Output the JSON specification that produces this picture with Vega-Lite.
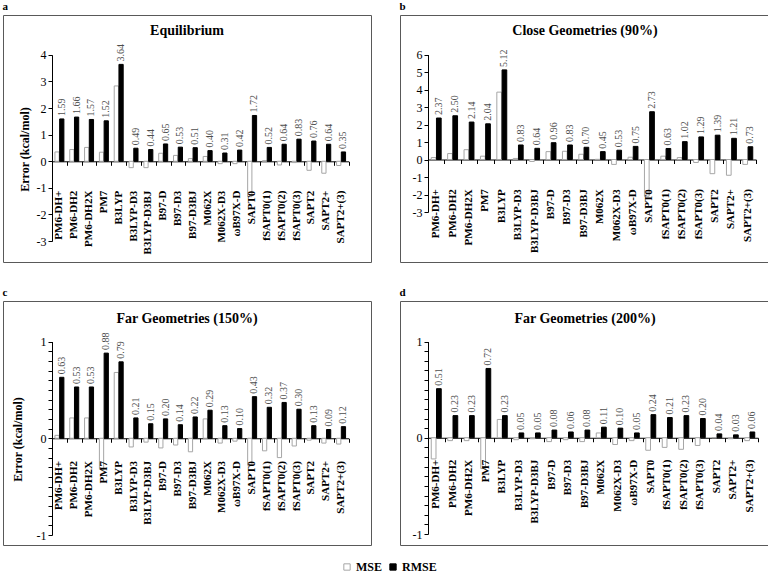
{
  "$schema": "https://vega.github.io/schema/vega-lite/v6.json",
  "padding": {"left": 2, "top": 0, "right": 0, "bottom": 0},
  "autosize": {"type": "pad"},
  "datasets": {
    "a": [
      {"method": "PM6-DH+", "MSE": 0.35, "RMSE": 1.59},
      {"method": "PM6-DH2", "MSE": 0.44, "RMSE": 1.66},
      {"method": "PM6-DH2X", "MSE": 0.52, "RMSE": 1.57},
      {"method": "PM7", "MSE": 0.34, "RMSE": 1.52},
      {"method": "B3LYP", "MSE": 2.83, "RMSE": 3.64},
      {"method": "B3LYP-D3", "MSE": -0.24, "RMSE": 0.49},
      {"method": "B3LYP-D3BJ", "MSE": -0.24, "RMSE": 0.44},
      {"method": "B97-D", "MSE": 0.30, "RMSE": 0.65},
      {"method": "B97-D3", "MSE": 0.22, "RMSE": 0.53},
      {"method": "B97-D3BJ", "MSE": 0.10, "RMSE": 0.51},
      {"method": "M062X", "MSE": 0.18, "RMSE": 0.40},
      {"method": "M062X-D3", "MSE": -0.09, "RMSE": 0.31},
      {"method": "ωB97X-D", "MSE": -0.09, "RMSE": 0.42},
      {"method": "SAPT0", "MSE": -1.33, "RMSE": 1.72},
      {"method": "fSAPT0(1)", "MSE": 0.02, "RMSE": 0.52},
      {"method": "fSAPT0(2)", "MSE": -0.14, "RMSE": 0.64},
      {"method": "fSAPT0(3)", "MSE": -0.05, "RMSE": 0.83},
      {"method": "SAPT2", "MSE": -0.34, "RMSE": 0.76},
      {"method": "SAPT2+", "MSE": -0.45, "RMSE": 0.64},
      {"method": "SAPT2+(3)", "MSE": -0.16, "RMSE": 0.35}
    ],
    "b": [
      {"method": "PM6-DH+", "MSE": 0.11, "RMSE": 2.37},
      {"method": "PM6-DH2", "MSE": 0.34, "RMSE": 2.50},
      {"method": "PM6-DH2X", "MSE": 0.56, "RMSE": 2.14},
      {"method": "PM7", "MSE": 0.19, "RMSE": 2.04},
      {"method": "B3LYP", "MSE": 3.85, "RMSE": 5.12},
      {"method": "B3LYP-D3", "MSE": 0.06, "RMSE": 0.83},
      {"method": "B3LYP-D3BJ", "MSE": -0.11, "RMSE": 0.64},
      {"method": "B97-D", "MSE": 0.45, "RMSE": 0.96},
      {"method": "B97-D3", "MSE": 0.47, "RMSE": 0.83},
      {"method": "B97-D3BJ", "MSE": 0.30, "RMSE": 0.70},
      {"method": "M062X", "MSE": 0.01, "RMSE": 0.45},
      {"method": "M062X-D3", "MSE": -0.28, "RMSE": 0.53},
      {"method": "ωB97X-D", "MSE": 0.13, "RMSE": 0.75},
      {"method": "SAPT0", "MSE": -2.10, "RMSE": 2.73},
      {"method": "fSAPT0(1)", "MSE": 0.19, "RMSE": 0.63},
      {"method": "fSAPT0(2)", "MSE": 0.11, "RMSE": 1.02},
      {"method": "fSAPT0(3)", "MSE": -0.17, "RMSE": 1.29},
      {"method": "SAPT2", "MSE": -0.81, "RMSE": 1.39},
      {"method": "SAPT2+", "MSE": -0.90, "RMSE": 1.21},
      {"method": "SAPT2+(3)", "MSE": -0.28, "RMSE": 0.73}
    ],
    "c": [
      {"method": "PM6-DH+", "MSE": 0.03, "RMSE": 0.63},
      {"method": "PM6-DH2", "MSE": 0.21, "RMSE": 0.53},
      {"method": "PM6-DH2X", "MSE": 0.21, "RMSE": 0.53},
      {"method": "PM7", "MSE": -0.32, "RMSE": 0.88},
      {"method": "B3LYP", "MSE": 0.68, "RMSE": 0.79},
      {"method": "B3LYP-D3", "MSE": -0.09, "RMSE": 0.21},
      {"method": "B3LYP-D3BJ", "MSE": -0.04, "RMSE": 0.15},
      {"method": "B97-D", "MSE": -0.10, "RMSE": 0.20},
      {"method": "B97-D3", "MSE": -0.07, "RMSE": 0.14},
      {"method": "B97-D3BJ", "MSE": -0.14, "RMSE": 0.22},
      {"method": "M062X", "MSE": 0.20, "RMSE": 0.29},
      {"method": "M062X-D3", "MSE": -0.05, "RMSE": 0.13},
      {"method": "ωB97X-D", "MSE": -0.03, "RMSE": 0.10},
      {"method": "SAPT0", "MSE": -0.28, "RMSE": 0.43},
      {"method": "fSAPT0(1)", "MSE": -0.13, "RMSE": 0.32},
      {"method": "fSAPT0(2)", "MSE": -0.20, "RMSE": 0.37},
      {"method": "fSAPT0(3)", "MSE": -0.08, "RMSE": 0.30},
      {"method": "SAPT2", "MSE": -0.02, "RMSE": 0.13},
      {"method": "SAPT2+", "MSE": -0.05, "RMSE": 0.09},
      {"method": "SAPT2+(3)", "MSE": -0.06, "RMSE": 0.12}
    ],
    "d": [
      {"method": "PM6-DH+", "MSE": -0.22, "RMSE": 0.51},
      {"method": "PM6-DH2", "MSE": -0.03, "RMSE": 0.23},
      {"method": "PM6-DH2X", "MSE": -0.03, "RMSE": 0.23},
      {"method": "PM7", "MSE": -0.32, "RMSE": 0.72},
      {"method": "B3LYP", "MSE": 0.19, "RMSE": 0.23},
      {"method": "B3LYP-D3", "MSE": -0.02, "RMSE": 0.05},
      {"method": "B3LYP-D3BJ", "MSE": -0.01, "RMSE": 0.05},
      {"method": "B97-D", "MSE": -0.04, "RMSE": 0.08},
      {"method": "B97-D3", "MSE": -0.02, "RMSE": 0.06},
      {"method": "B97-D3BJ", "MSE": -0.04, "RMSE": 0.08},
      {"method": "M062X", "MSE": 0.05, "RMSE": 0.11},
      {"method": "M062X-D3", "MSE": -0.07, "RMSE": 0.10},
      {"method": "ωB97X-D", "MSE": -0.03, "RMSE": 0.05},
      {"method": "SAPT0", "MSE": -0.13, "RMSE": 0.24},
      {"method": "fSAPT0(1)", "MSE": -0.10, "RMSE": 0.21},
      {"method": "fSAPT0(2)", "MSE": -0.12, "RMSE": 0.23},
      {"method": "fSAPT0(3)", "MSE": -0.08, "RMSE": 0.20},
      {"method": "SAPT2", "MSE": 0.00, "RMSE": 0.04},
      {"method": "SAPT2+", "MSE": -0.01, "RMSE": 0.03},
      {"method": "SAPT2+(3)", "MSE": -0.03, "RMSE": 0.06}
    ]
  },
  "spacing": 23,
  "resolve": {"scale": {"xOffset": "independent"}},
  "vconcat": [
    {
      "spacing": 27,
      "resolve": {"scale": {"xOffset": "independent"}},
      "hconcat": [
        {
          "title": {"text": "a", "anchor": "start", "fontSize": 11, "fontWeight": "bold", "offset": -6, "baseline": "alphabetic"},
          "resolve": {"scale": {"xOffset": "independent"}},
          "vconcat": [
            {
              "width": 368, "height": 247,
              "title": {"text": "Equilibrium", "offset": -23, "fontSize": 14, "fontWeight": "bold", "anchor": "middle"},
              "data": {"name": "a"},
              "transform": [{"fold": ["MSE", "RMSE"], "as": ["metric", "value"]}],
              "encoding": {
                "x": {"field": "method", "type": "nominal", "sort": null,
                  "scale": {"range": [49, 345.5], "paddingInner": 0, "paddingOuter": 0},
                  "axis": {"title": null, "orient": "bottom", "offset": -100.7, "labels": false, "tickBand": "extent", "tickSize": 4, "domainColor": "black", "tickColor": "black"}},
                "y": {"field": "value", "type": "quantitative",
                  "scale": {"domain": [-3, 4], "range": [226.1, 39.8], "nice": false, "zero": false},
                  "axis": {"title": "Error (kcal/mol)", "titleFontSize": 12, "titleFontWeight": "bold", "titleColor": "black", "titlePadding": 5, "titleY": 134, "offset": -49, "values": [-3, -2, -1, 0, 1, 2, 3, 4], "labelExpr": "'' + datum.value", "grid": false, "domainColor": "black", "tickColor": "black", "tickSize": 4, "labelPadding": 2, "labelFontSize": 12, "labelColor": "black"}}
              },
              "layer": [
                {"mark": {"type": "bar", "strokeWidth": 1},
                  "encoding": {
                    "xOffset": {"field": "metric", "scale": {"domain": ["MSE", "RMSE"], "paddingInner": 0.1, "paddingOuter": 0.62}},
                    "fill": {"field": "metric", "type": "nominal", "scale": {"domain": ["MSE", "RMSE"], "range": ["#ffffff", "#000000"]}, "legend": {"title": null}},
                    "stroke": {"field": "metric", "type": "nominal", "scale": {"domain": ["MSE", "RMSE"], "range": ["#a6a6a6", "#000000"]}, "legend": {"title": null}}
                  }},
                {"mark": {"type": "text", "angle": 270, "align": "left", "baseline": "middle", "dx": 3, "fontSize": 10, "color": "#4d4d4d"},
                  "transform": [{"filter": "datum.metric == 'RMSE'"}],
                  "encoding": {"xOffset": {"field": "metric"}, "text": {"field": "value", "format": ".2f"}}},
                {"mark": {"type": "text", "angle": 270, "align": "right", "baseline": "middle", "fontSize": 11, "fontWeight": "bold", "color": "black"},
                  "transform": [{"filter": "datum.metric == 'RMSE'"}],
                  "encoding": {"y": {"datum": -1.105, "type": "quantitative"}, "text": {"field": "method"}}}
              ]
            }
          ]
        },
        {
          "title": {"text": "b", "anchor": "start", "fontSize": 11, "fontWeight": "bold", "offset": -6, "baseline": "alphabetic"},
          "resolve": {"scale": {"xOffset": "independent"}},
          "vconcat": [
            {
              "width": 370, "height": 247,
              "title": {"text": "Close Geometries (90%)", "offset": -23, "fontSize": 14, "fontWeight": "bold", "anchor": "middle"},
              "data": {"name": "b"},
              "transform": [{"fold": ["MSE", "RMSE"], "as": ["metric", "value"]}],
              "encoding": {
                "x": {"field": "method", "type": "nominal", "sort": null,
                  "scale": {"range": [28, 356], "paddingInner": 0, "paddingOuter": 0},
                  "axis": {"title": null, "orient": "bottom", "offset": -102.5, "labels": false, "tickBand": "extent", "tickSize": 4, "domainColor": "black", "tickColor": "black"}},
                "y": {"field": "value", "type": "quantitative",
                  "scale": {"domain": [-3, 6], "range": [197, 39.5], "nice": false, "zero": false},
                  "axis": {"title": null, "offset": -28, "values": [-3, -2, -1, 0, 1, 2, 3, 4, 5, 6], "labelExpr": "'' + datum.value", "grid": false, "domainColor": "black", "tickColor": "black", "tickSize": 4, "labelPadding": 2, "labelFontSize": 12, "labelColor": "black"}}
              },
              "layer": [
                {"mark": {"type": "bar", "strokeWidth": 1},
                  "encoding": {
                    "xOffset": {"field": "metric", "scale": {"domain": ["MSE", "RMSE"], "paddingInner": 0.1, "paddingOuter": 0.62}},
                    "fill": {"field": "metric", "type": "nominal", "scale": {"domain": ["MSE", "RMSE"], "range": ["#ffffff", "#000000"]}, "legend": {"title": null}},
                    "stroke": {"field": "metric", "type": "nominal", "scale": {"domain": ["MSE", "RMSE"], "range": ["#a6a6a6", "#000000"]}, "legend": {"title": null}}
                  }},
                {"mark": {"type": "text", "angle": 270, "align": "left", "baseline": "middle", "dx": 3, "fontSize": 10, "color": "#4d4d4d"},
                  "transform": [{"filter": "datum.metric == 'RMSE'"}],
                  "encoding": {"xOffset": {"field": "metric"}, "text": {"field": "value", "format": ".2f"}}},
                {"mark": {"type": "text", "angle": 270, "align": "right", "baseline": "middle", "fontSize": 11, "fontWeight": "bold", "color": "black"},
                  "transform": [{"filter": "datum.metric == 'RMSE'"}],
                  "encoding": {"y": {"datum": -1.697, "type": "quantitative"}, "text": {"field": "method"}}}
              ]
            }
          ]
        }
      ]
    },
    {
      "spacing": 27,
      "resolve": {"scale": {"xOffset": "independent"}},
      "hconcat": [
        {
          "title": {"text": "c", "anchor": "start", "fontSize": 11, "fontWeight": "bold", "offset": -6, "baseline": "alphabetic"},
          "resolve": {"scale": {"xOffset": "independent"}},
          "vconcat": [
            {
              "width": 368, "height": 244,
              "title": {"text": "Far Geometries (150%)", "offset": -25, "fontSize": 14, "fontWeight": "bold", "anchor": "middle"},
              "data": {"name": "c"},
              "transform": [{"fold": ["MSE", "RMSE"], "as": ["metric", "value"]}],
              "encoding": {
                "x": {"field": "method", "type": "nominal", "sort": null,
                  "scale": {"range": [49, 345.5], "paddingInner": 0, "paddingOuter": 0},
                  "axis": {"title": null, "orient": "bottom", "offset": -106.75, "labels": false, "tickBand": "extent", "tickSize": 4, "domainColor": "black", "tickColor": "black"}},
                "y": {"field": "value", "type": "quantitative",
                  "scale": {"domain": [-1, 1], "range": [234, 40.5], "nice": false, "zero": false},
                  "axis": {"title": "Error (kcal/mol)", "titleFontSize": 12, "titleFontWeight": "bold", "titleColor": "black", "titlePadding": 12, "titleY": 138, "offset": -49, "values": [-1, -0.9, -0.8, -0.7, -0.6, -0.5, -0.4, -0.3, -0.2, -0.1, 0, 0.1, 0.2, 0.3, 0.4, 0.5, 0.6, 0.7, 0.8, 0.9, 1], "labelExpr": "abs(datum.value - round(datum.value)) < 0.001 ? '' + round(datum.value) : ''", "grid": false, "domainColor": "black", "tickColor": "black", "tickSize": 4, "labelPadding": 2, "labelFontSize": 12, "labelColor": "black"}}
              },
              "layer": [
                {"mark": {"type": "bar", "strokeWidth": 1},
                  "encoding": {
                    "xOffset": {"field": "metric", "scale": {"domain": ["MSE", "RMSE"], "paddingInner": 0.1, "paddingOuter": 0.62}},
                    "fill": {"field": "metric", "type": "nominal", "scale": {"domain": ["MSE", "RMSE"], "range": ["#ffffff", "#000000"]}, "legend": {"title": null}},
                    "stroke": {"field": "metric", "type": "nominal", "scale": {"domain": ["MSE", "RMSE"], "range": ["#a6a6a6", "#000000"]}, "legend": {"title": null}}
                  }},
                {"mark": {"type": "text", "angle": 270, "align": "left", "baseline": "middle", "dx": 3, "fontSize": 10, "color": "#4d4d4d"},
                  "transform": [{"filter": "datum.metric == 'RMSE'"}],
                  "encoding": {"xOffset": {"field": "metric"}, "text": {"field": "value", "format": ".2f"}}},
                {"mark": {"type": "text", "angle": 270, "align": "right", "baseline": "middle", "fontSize": 11, "fontWeight": "bold", "color": "black"},
                  "transform": [{"filter": "datum.metric == 'RMSE'"}],
                  "encoding": {"y": {"datum": -0.235, "type": "quantitative"}, "text": {"field": "method"}}}
              ]
            }
          ]
        },
        {
          "title": {"text": "d", "anchor": "start", "fontSize": 11, "fontWeight": "bold", "offset": -6, "baseline": "alphabetic"},
          "resolve": {"scale": {"xOffset": "independent"}},
          "vconcat": [
            {
              "width": 370, "height": 244,
              "title": {"text": "Far Geometries (200%)", "offset": -25, "fontSize": 14, "fontWeight": "bold", "anchor": "middle"},
              "data": {"name": "d"},
              "transform": [{"fold": ["MSE", "RMSE"], "as": ["metric", "value"]}],
              "encoding": {
                "x": {"field": "method", "type": "nominal", "sort": null,
                  "scale": {"range": [28, 358], "paddingInner": 0, "paddingOuter": 0},
                  "axis": {"title": null, "orient": "bottom", "offset": -107.25, "labels": false, "tickBand": "extent", "tickSize": 4, "domainColor": "black", "tickColor": "black"}},
                "y": {"field": "value", "type": "quantitative",
                  "scale": {"domain": [-1, 1], "range": [233, 40.5], "nice": false, "zero": false},
                  "axis": {"title": null, "offset": -28, "values": [-1, -0.9, -0.8, -0.7, -0.6, -0.5, -0.4, -0.3, -0.2, -0.1, 0, 0.1, 0.2, 0.3, 0.4, 0.5, 0.6, 0.7, 0.8, 0.9, 1], "labelExpr": "abs(datum.value - round(datum.value)) < 0.001 ? '' + round(datum.value) : ''", "grid": false, "domainColor": "black", "tickColor": "black", "tickSize": 4, "labelPadding": 2, "labelFontSize": 12, "labelColor": "black"}}
              },
              "layer": [
                {"mark": {"type": "bar", "strokeWidth": 1},
                  "encoding": {
                    "xOffset": {"field": "metric", "scale": {"domain": ["MSE", "RMSE"], "paddingInner": 0.1, "paddingOuter": 0.62}},
                    "fill": {"field": "metric", "type": "nominal", "scale": {"domain": ["MSE", "RMSE"], "range": ["#ffffff", "#000000"]}, "legend": {"title": null}},
                    "stroke": {"field": "metric", "type": "nominal", "scale": {"domain": ["MSE", "RMSE"], "range": ["#a6a6a6", "#000000"]}, "legend": {"title": null}}
                  }},
                {"mark": {"type": "text", "angle": 270, "align": "left", "baseline": "middle", "dx": 3, "fontSize": 10, "color": "#4d4d4d"},
                  "transform": [{"filter": "datum.metric == 'RMSE'"}],
                  "encoding": {"xOffset": {"field": "metric"}, "text": {"field": "value", "format": ".2f"}}},
                {"mark": {"type": "text", "angle": 270, "align": "right", "baseline": "middle", "fontSize": 11, "fontWeight": "bold", "color": "black"},
                  "transform": [{"filter": "datum.metric == 'RMSE'"}],
                  "encoding": {"y": {"datum": -0.228, "type": "quantitative"}, "text": {"field": "method"}}}
              ]
            }
          ]
        }
      ]
    }
  ],
  "config": {
    "font": "Liberation Serif",
    "view": {"stroke": "#595959", "strokeWidth": 1},
    "axis": {"grid": false, "labelFont": "Liberation Serif", "titleFont": "Liberation Serif"},
    "title": {"color": "black", "font": "Liberation Serif"},
    "legend": {"orient": "none", "legendX": 338, "legendY": 546, "direction": "horizontal", "symbolType": "square", "symbolSize": 40, "symbolStrokeWidth": 1, "labelFontSize": 12, "labelFontWeight": "bold", "labelColor": "black", "labelFont": "Liberation Serif", "columnPadding": 4, "labelOffset": 3}
  }
}
